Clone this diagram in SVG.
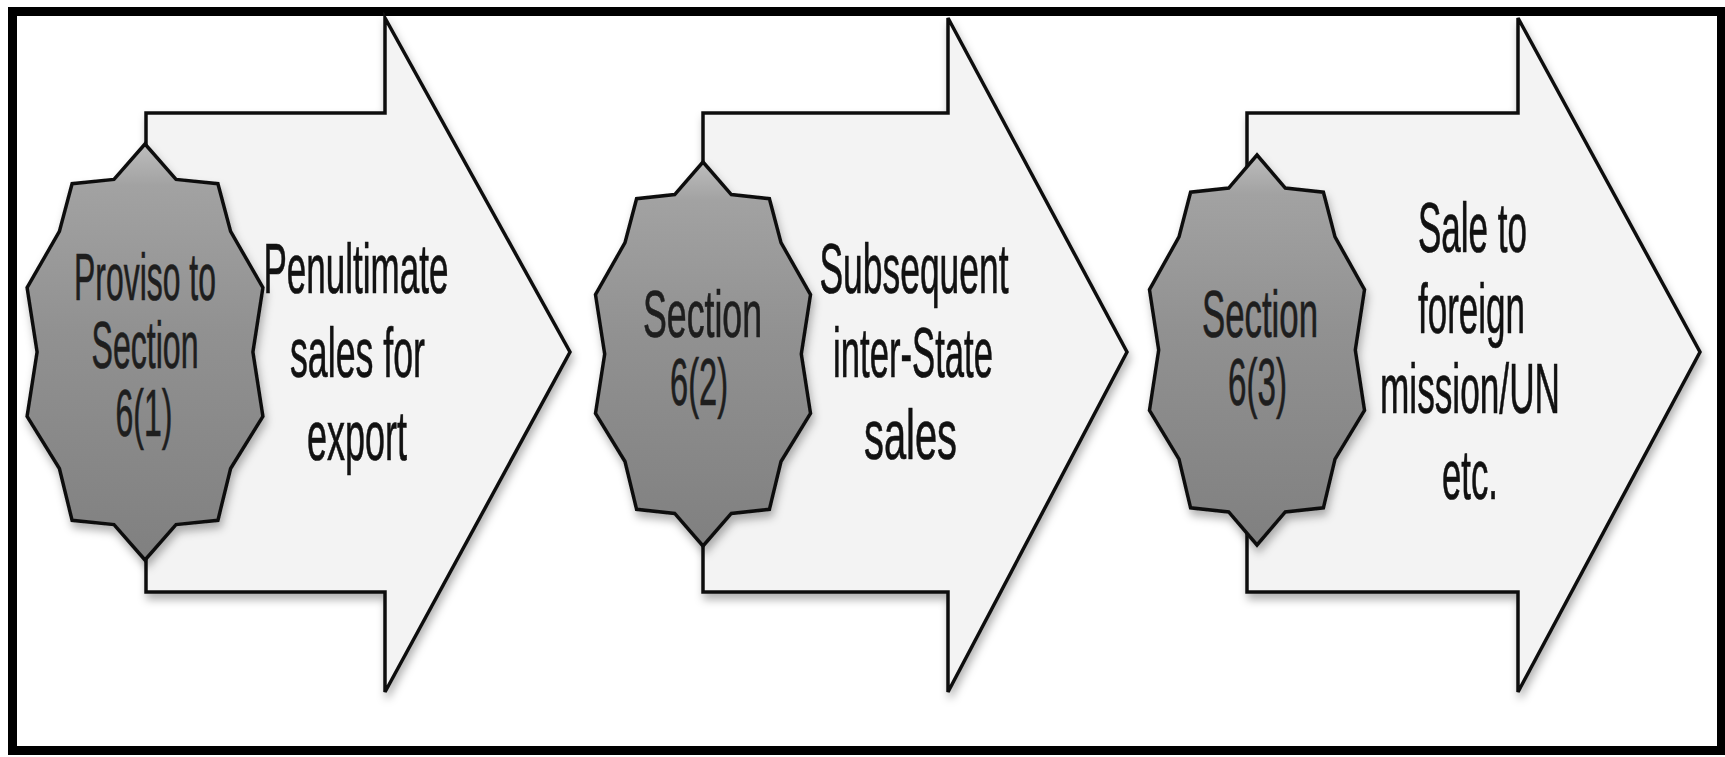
<svg xmlns="http://www.w3.org/2000/svg" width="1725" height="757" viewBox="0 0 1725 757">
  <defs>
    <linearGradient id="badgeFill" x1="0" y1="0" x2="0" y2="1">
      <stop offset="0" stop-color="#bdbdbd"/>
      <stop offset="0.1" stop-color="#a2a2a2"/>
      <stop offset="0.45" stop-color="#919191"/>
      <stop offset="1" stop-color="#808080"/>
    </linearGradient>
    <filter id="shadow" x="-10%" y="-10%" width="125%" height="125%">
      <feDropShadow dx="2" dy="6" stdDeviation="4" flood-color="#000" flood-opacity="0.3"/>
    </filter>
    <style>
      .arrow { fill: #f3f3f3; stroke: #111; stroke-width: 3.5; stroke-linejoin: miter; filter: url(#shadow); }
      .badge { fill: url(#badgeFill); stroke: #111; stroke-width: 3.5; stroke-linejoin: miter; filter: url(#shadow); }
      .badge-text { font-family: "Liberation Sans", Arial, sans-serif; font-size: 66px; fill: #1e1e1e; stroke: #1e1e1e; stroke-width: 0.7; text-anchor: middle; }
      .label { font-family: "Liberation Sans", Arial, sans-serif; font-size: 70px; fill: #111; stroke: #111; stroke-width: 0.7; text-anchor: middle; }
    </style>
  </defs>

  <!-- page background and frame -->
  <rect x="0" y="0" width="1725" height="757" fill="#ffffff"/>
  <rect x="12.5" y="11.5" width="1709" height="739" fill="#ffffff" stroke="#000" stroke-width="9"/>

  <!-- step 1 -->
  <g id="arrow-1">
    <path class="arrow" d="M146,113 H385 V18 L570,352 L385,692 V592 H146 Z"/>
    <text class="label" x="356" y="293" textLength="185" lengthAdjust="spacingAndGlyphs">Penultimate</text>
    <text class="label" x="357.5" y="377" textLength="135" lengthAdjust="spacingAndGlyphs">sales for</text>
    <text class="label" x="357" y="460" textLength="100" lengthAdjust="spacingAndGlyphs">export</text>
  </g>
  <g id="badge-1">
    <polygon class="badge" points="145,144 176,179.4 217.9,183.7 230.6,231.4 262.9,287.7 252.9,352 262.9,416.3 230.6,468.5 217.9,520.3 176,524.6 145,560 114,524.6 72.1,520.3 59.4,468.5 27.1,416.3 37.1,352 27.1,287.7 59.4,231.4 72.1,183.7 114,179.4"/>
    <text class="badge-text" x="145" y="300" textLength="142" lengthAdjust="spacingAndGlyphs">Proviso to</text>
    <text class="badge-text" x="145" y="368" textLength="107" lengthAdjust="spacingAndGlyphs">Section</text>
    <text class="badge-text" x="144" y="436" textLength="57" lengthAdjust="spacingAndGlyphs">6(1)</text>
  </g>

  <!-- step 2 -->
  <g id="arrow-2">
    <path class="arrow" d="M703,113 H948 V18 L1127,352 L948,692 V592 H703 Z"/>
    <text class="label" x="914" y="293" textLength="189" lengthAdjust="spacingAndGlyphs">Subsequent</text>
    <text class="label" x="913" y="377" textLength="160" lengthAdjust="spacingAndGlyphs">inter-State</text>
    <text class="label" x="910.5" y="459" textLength="93" lengthAdjust="spacingAndGlyphs">sales</text>
  </g>
  <g id="badge-2">
    <polygon class="badge" points="703,162 731.3,194.6 769.4,198.7 781,242.6 810.5,294.7 801.3,354 810.5,413.3 781,461.5 769.4,509.3 731.3,513.4 703,546 674.7,513.4 636.6,509.3 625,461.5 595.5,413.3 604.7,354 595.5,294.7 625,242.6 636.6,198.7 674.7,194.6"/>
    <text class="badge-text" x="702.5" y="337" textLength="119" lengthAdjust="spacingAndGlyphs">Section</text>
    <text class="badge-text" x="699" y="405" textLength="58" lengthAdjust="spacingAndGlyphs">6(2)</text>
  </g>

  <!-- step 3 -->
  <g id="arrow-3">
    <path class="arrow" d="M1247,113 H1518 V18 L1700,352 L1518,692 V592 H1247 Z"/>
    <text class="label" x="1472.5" y="252" textLength="109" lengthAdjust="spacingAndGlyphs">Sale to</text>
    <text class="label" x="1471.5" y="333" textLength="107" lengthAdjust="spacingAndGlyphs">foreign</text>
    <text class="label" x="1470" y="413" textLength="180" lengthAdjust="spacingAndGlyphs">mission/UN</text>
    <text class="label" x="1470" y="499" textLength="56" lengthAdjust="spacingAndGlyphs">etc.</text>
  </g>
  <g id="badge-3">
    <polygon class="badge" points="1257,155 1285.3,188.1 1323.4,192.2 1335,236.9 1364.5,289.7 1355.3,350 1364.5,410.3 1335,459.2 1323.4,507.8 1285.3,511.9 1257,545 1228.7,511.9 1190.6,507.8 1179,459.2 1149.5,410.3 1158.7,350 1149.5,289.7 1179,236.9 1190.6,192.2 1228.7,188.1"/>
    <text class="badge-text" x="1260" y="337" textLength="116" lengthAdjust="spacingAndGlyphs">Section</text>
    <text class="badge-text" x="1257.5" y="405" textLength="59" lengthAdjust="spacingAndGlyphs">6(3)</text>
  </g>
</svg>
